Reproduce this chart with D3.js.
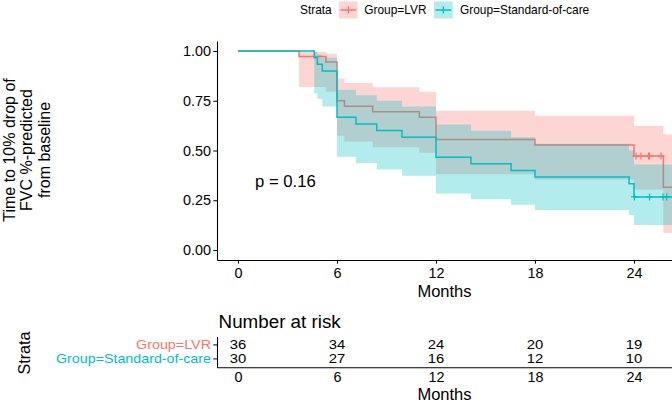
<!DOCTYPE html>
<html><head><meta charset="utf-8">
<script src="https://cdn.jsdelivr.net/npm/d3@7"></script>
<style>
body{margin:0;background:#fff}
text{font-family:"Liberation Sans",Arial,Helvetica,sans-serif}
</style>
</head><body><svg id="c" width="672" height="403"></svg>
<script>
// ---- data ----
const groups = ["Group=LVR", "Group=Standard-of-care"];
const colors = ["#F8766D", "#00BFC4"];
const lvrTime  = [0, 3.70, 5.33, 6.00, 6.45, 8.16, 10.99, 12.00, 18.00, 24.00, 25.78, 26.50];
const lvrSurv  = [1, 0.9722, 0.9444, 0.7500, 0.7222, 0.6944, 0.6667, 0.5556, 0.5278, 0.4722, 0.3148, 0.3148];
const lvrUpper = [1, 0.9960, 0.9858, 0.8613, 0.8398, 0.8177, 0.7950, 0.6994, 0.6743, 0.6228, 0.5806, 0.5806];
const lvrLower = [1, 0.8187, 0.7956, 0.5746, 0.5453, 0.5166, 0.4884, 0.3805, 0.3547, 0.3046, 0.0857, 0.0857];
const lvrCensor = [24.12, 24.42, 24.88, 24.94, 25.64];
const socTime  = [0, 4.62, 4.81, 5.11, 6.00, 7.15, 8.41, 9.94, 12.00, 14.12, 16.55, 18.00, 23.70, 24.00, 26.50];
const socSurv  = [1, 0.9667, 0.9333, 0.9000, 0.6667, 0.6333, 0.6000, 0.5667, 0.4667, 0.4333, 0.4000, 0.3667, 0.3333, 0.2667, 0.2667];
const socUpper = [1, 0.9952, 0.9829, 0.9666, 0.8047, 0.7775, 0.7495, 0.7208, 0.6304, 0.5989, 0.5667, 0.5338, 0.5000, 0.4301, 0.4301];
const socLower = [1, 0.7861, 0.7588, 0.7212, 0.4692, 0.4365, 0.4045, 0.3733, 0.2839, 0.2556, 0.2280, 0.2012, 0.1753, 0.1261, 0.1261];
const socCensor = [24.03, 24.94, 25.76, 25.98];
const riskTimes = [0, 6, 12, 18, 24];
const riskLVR = [36, 34, 24, 20, 19];
const riskSOC = [30, 27, 16, 12, 10];
const yTicks = [0, 0.25, 0.5, 0.75, 1];
const pLabel = "p = 0.16";
const yTitle = ["Time to 10% drop of", "FVC %-predicted", "from baseline"];

// ---- drawing ----
const svg = d3.select("#c");
const x = d3.scaleLinear().domain([-1.2727, 26.303]).range([217, 672]);
const y = d3.scaleLinear().domain([-0.05, 1.05]).range([259.95, 41.05]);

svg.append("defs").append("clipPath").attr("id","clip")
  .append("rect").attr("x",217).attr("y",41).attr("width",455).attr("height",219);

const series = [
  {color:colors[0], time:lvrTime, surv:lvrSurv, up:lvrUpper, lo:lvrLower, cens:lvrCensor},
  {color:colors[1], time:socTime, surv:socSurv, up:socUpper, lo:socLower, cens:socCensor}
];
const plot = svg.append("g").attr("clip-path","url(#clip)");
series.forEach(s => {
  const pts = s.time.map((t,i)=>({t:t, s:s.surv[i], u:s.up[i], l:s.lo[i]}));
  plot.append("path").datum(pts)
    .attr("d", d3.area().curve(d3.curveStepAfter).x(d=>x(d.t)).y0(d=>y(d.l)).y1(d=>y(d.u)))
    .attr("fill", s.color).attr("fill-opacity", 0.3);
  plot.append("path").datum(pts)
    .attr("d", d3.line().curve(d3.curveStepAfter).x(d=>x(d.t)).y(d=>y(d.s)))
    .attr("fill","none").attr("stroke", s.color).attr("stroke-width", 1.5);
  s.cens.forEach(c => {
    const i = d3.bisectRight(s.time, c) - 1;
    const cx = x(c), cy = y(s.surv[i]);
    plot.append("path").attr("d", `M${cx},${cy-3.5}V${cy+3.5}M${cx-3.5},${cy}H${cx+3.5}`)
      .attr("stroke", s.color).attr("stroke-width", 1.2).attr("fill","none");
  });
});

function styleAxis(g, fs){
  g.select(".domain").attr("stroke","#000").attr("stroke-width",1.1);
  g.selectAll(".tick line").attr("stroke","#000").attr("stroke-width",1);
  g.selectAll(".tick text").attr("fill","#000").style("font-size", fs+"px")
   .style("font-family",'"Liberation Sans",Arial,sans-serif');
}

// main axes
const gx = svg.append("g").attr("transform","translate(0,259.95)")
  .call(d3.axisBottom(x).tickValues(riskTimes).tickSizeInner(3.7).tickSizeOuter(0).tickPadding(4.4));
styleAxis(gx, 14.4);
const gy = svg.append("g").attr("transform","translate(217,0)")
  .call(d3.axisLeft(y).tickValues(yTicks).tickFormat(d3.format(".2f")).tickSizeInner(3.7).tickSizeOuter(0).tickPadding(2.3));
styleAxis(gy, 14.4);

svg.append("text").attr("x",444.5).attr("y",296.5).attr("text-anchor","middle")
  .style("font-size","16.5px").text("Months");

const yt = svg.append("text").attr("transform","translate(0,150) rotate(-90)")
  .attr("text-anchor","middle").style("font-size","16px");
yTitle.forEach((l,i)=> yt.append("tspan").attr("x",0).attr("y", 14.8 + i*17.6).text(l));

svg.append("text").attr("x", x(1.03)).attr("y", 186.7).style("font-size","16.7px").text(pLabel);

// legend
const lg = svg.append("g");
lg.append("text").attr("x",300).attr("y",14.2).style("font-size","11.9px").text("Strata");
const keyX = [339, 434], labX = [364.3, 460];
groups.forEach((g,i)=>{
  lg.append("rect").attr("x",keyX[i]).attr("y",1.5).attr("width",18.7).attr("height",17)
    .attr("fill",colors[i]).attr("fill-opacity",0.3);
  lg.append("path").attr("d",`M${keyX[i]+1.5},10H${keyX[i]+17.2}M${keyX[i]+9.35},6.5V13.5`)
    .attr("stroke",colors[i]).attr("stroke-width",1.4);
  lg.append("text").attr("x",labX[i]).attr("y",14.2).style("font-size","11.9px").text(g);
});

// risk table
svg.append("text").attr("x",218.6).attr("y",328.3).style("font-size","18.8px").text("Number at risk");
const ry = d3.scaleBand().domain(groups).range([336.5, 367.3]).paddingOuter(0.1).paddingInner(0);
const gry = svg.append("g").attr("transform","translate(217,0)")
  .call(d3.axisLeft(ry).tickSizeInner(3.7).tickSizeOuter(0).tickPadding(2.3));
styleAxis(gry, 12.8);
gry.selectAll(".tick text").attr("fill",(d,i)=>colors[i])
  .attr("textLength",(d,i)=>[75, 155][i]).attr("lengthAdjust","spacingAndGlyphs");
const grx = svg.append("g").attr("transform","translate(0,367.3)")
  .call(d3.axisBottom(x).tickValues(riskTimes).tickSizeInner(3.7).tickSizeOuter(0).tickPadding(1));
styleAxis(grx, 14.4);
grx.selectAll(".tick line").remove();

[riskLVR, riskSOC].forEach((row,gi)=>{
  svg.append("g").selectAll("text").data(row).join("text")
    .attr("x",(d,i)=>x(riskTimes[i])).attr("y", ry(groups[gi]) + ry.bandwidth()/2)
    .attr("text-anchor","middle").attr("dominant-baseline","central")
    .attr("textLength",16.5).attr("lengthAdjust","spacingAndGlyphs")
    .style("font-size","12.8px").text(d=>d);
});
svg.append("text").attr("x",444.5).attr("y",399.5).attr("text-anchor","middle")
  .style("font-size","16.5px").text("Months");
svg.append("text").attr("transform","translate(30,353) rotate(-90)").attr("text-anchor","middle")
  .style("font-size","16.2px").text("Strata");
</script>
</body></html>
